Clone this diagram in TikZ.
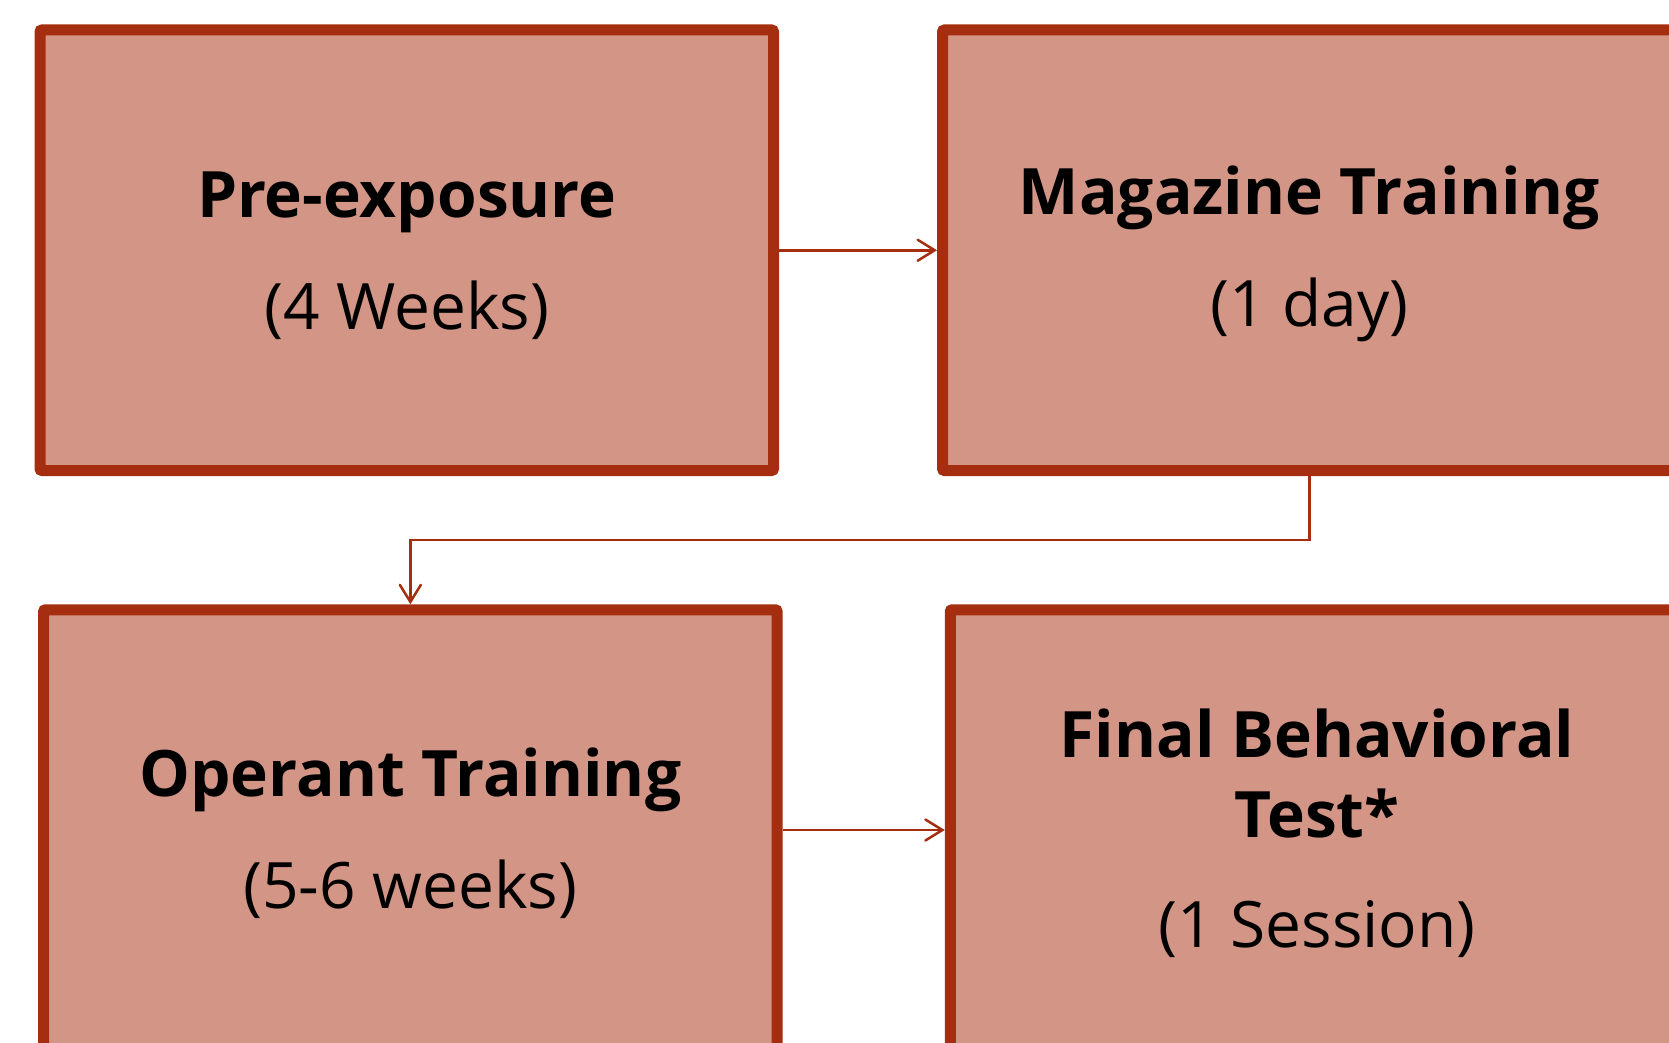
\documentclass[tikz,border=0pt]{standalone}
\usepackage{fontspec}
\setmainfont{Open Sans}
\usetikzlibrary{arrows.meta}
\definecolor{boxfill}{HTML}{D39586}
\definecolor{boxline}{HTML}{A52E10}
% strut that sets the height of the first line of a stage label
\newcommand{\firstline}{\rule{0pt}{56pt}}
\begin{document}
\begin{tikzpicture}[x=1pt,y=-1pt,
  stage/.style={draw=boxline, fill=boxfill, line width=11pt, rounded corners=2pt,
    rectangle, minimum width=733.5pt, minimum height=440.5pt, inner sep=0pt,
    align=center, text=black, font=\fontsize{64}{80}\selectfont},
  conn/.style={draw=boxline, line width=2.5pt,
    -{Straight Barb[length=17pt,width=21pt,line cap=round]}}]
  \useasboundingbox (0,0) rectangle (1669,1043);
  % the four stages of the procedure
  \node[stage] (pre) at (406.75,250.25) {\firstline\textbf{Pre-exposure}\\[32pt](4 Weeks)};
  \node[stage] (mag) at (1309.25,250.25) {\firstline\textbf{Magazine Training}\\[32pt](1 day)};
  \node[stage] (op) at (410.35,830) {\firstline\textbf{Operant Training}\\[32pt](5-6 weeks)};
  \node[stage] (fin) at (1317,830) {\firstline\textbf{Final Behavioral}\\\textbf{Test*}\\[30pt](1 Session)};
  % connectors between the stages
  \coordinate (bend) at (0,540);
  \draw[conn] (pre.east) -- (mag.west);
  \draw[conn] (mag.south) -- (mag.south |- bend) -| (op.north);
  \draw[conn] (op.east) -- (fin.west);
\end{tikzpicture}
\end{document}
